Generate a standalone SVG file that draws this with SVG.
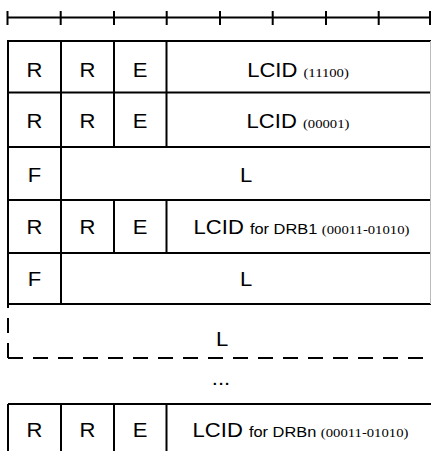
<svg xmlns="http://www.w3.org/2000/svg" width="431" height="451" viewBox="0 0 431 451">
<style>
.ln{stroke:#000;stroke-width:2;fill:none}
.ds{stroke:#000;stroke-width:2;fill:none;stroke-dasharray:15 10}
.t{font-family:"Liberation Sans",Arial,sans-serif;font-size:19.5px;fill:#000;text-anchor:middle}
.s{font-family:"Liberation Serif","Times New Roman",serif;font-size:13px}
.a{font-size:14.5px}
</style>
<rect width="431" height="451" fill="#fff"/>
<g id="ruler">
<path class="ln" d="M7.5,17.5H431M7.5,11V25M60.7,11V25M114,11V25M166.7,11V25M220,11V25M272.7,11V25M326,11V25M378.7,11V25M430,11V25"/>
</g>
<g id="connectors">
<path class="ln" d="M8,41H431M8,92.5H431M8,147H431M8,200H431M8,253H431M8,304H431M8,404H431"/>
<path class="ln" d="M8,40V304M8,404V451"/>
<path d="M430.5,41V304" stroke="#bbb" stroke-width="1" fill="none"/>
<path class="ln" d="M61,41V304M114,41V147M166.5,41V147M114,200V253M166.5,200V253M61,404V451M114,404V451M166.5,404V451"/>
<path class="ds" d="M8,358H431"/>
<path class="ds" d="M8,358V304"/>
</g>
<g id="row1">
<text class="t" transform="translate(34.5,76.5) scale(1.13,1)">R</text>
<text class="t" transform="translate(87.5,76.5) scale(1.13,1)">R</text>
<text class="t" transform="translate(140,76.5) scale(1.13,1)">E</text>
<text class="t" transform="translate(298,76.5) scale(1.13,1)">LCID <tspan class="s">(11100)</tspan></text>
</g>
<g id="row2">
<text class="t" transform="translate(34.5,127.5) scale(1.13,1)">R</text>
<text class="t" transform="translate(87.5,127.5) scale(1.13,1)">R</text>
<text class="t" transform="translate(140,127.5) scale(1.13,1)">E</text>
<text class="t" transform="translate(298,127.5) scale(1.13,1)">LCID <tspan class="s">(00001)</tspan></text>
</g>
<g id="row3">
<text class="t" transform="translate(34.5,181.5) scale(1.13,1)">F</text>
<text class="t" transform="translate(246,181.5) scale(1.13,1)">L</text>
</g>
<g id="row4">
<text class="t" transform="translate(34.5,234) scale(1.13,1)">R</text>
<text class="t" transform="translate(87.5,234) scale(1.13,1)">R</text>
<text class="t" transform="translate(140,234) scale(1.13,1)">E</text>
<text class="t" transform="translate(301.5,234) scale(1.13,1)">LCID <tspan class="a">for DRB1 </tspan><tspan class="s">(00011-01010)</tspan></text>
</g>
<g id="row5">
<text class="t" transform="translate(34.5,286) scale(1.13,1)">F</text>
<text class="t" transform="translate(246,286) scale(1.13,1)">L</text>
</g>
<g id="row6">
<text class="t" transform="translate(222,346) scale(1.13,1)">L</text>
</g>
<g id="ellipsis">
<text class="t" transform="translate(221,385) scale(1.13,1)">...</text>
</g>
<g id="row7">
<text class="t" transform="translate(34.5,437) scale(1.13,1)">R</text>
<text class="t" transform="translate(87.5,437) scale(1.13,1)">R</text>
<text class="t" transform="translate(140,437) scale(1.13,1)">E</text>
<text class="t" transform="translate(300.5,437) scale(1.13,1)">LCID <tspan class="a">for DRBn </tspan><tspan class="s">(00011-01010)</tspan></text>
</g>
</svg>
